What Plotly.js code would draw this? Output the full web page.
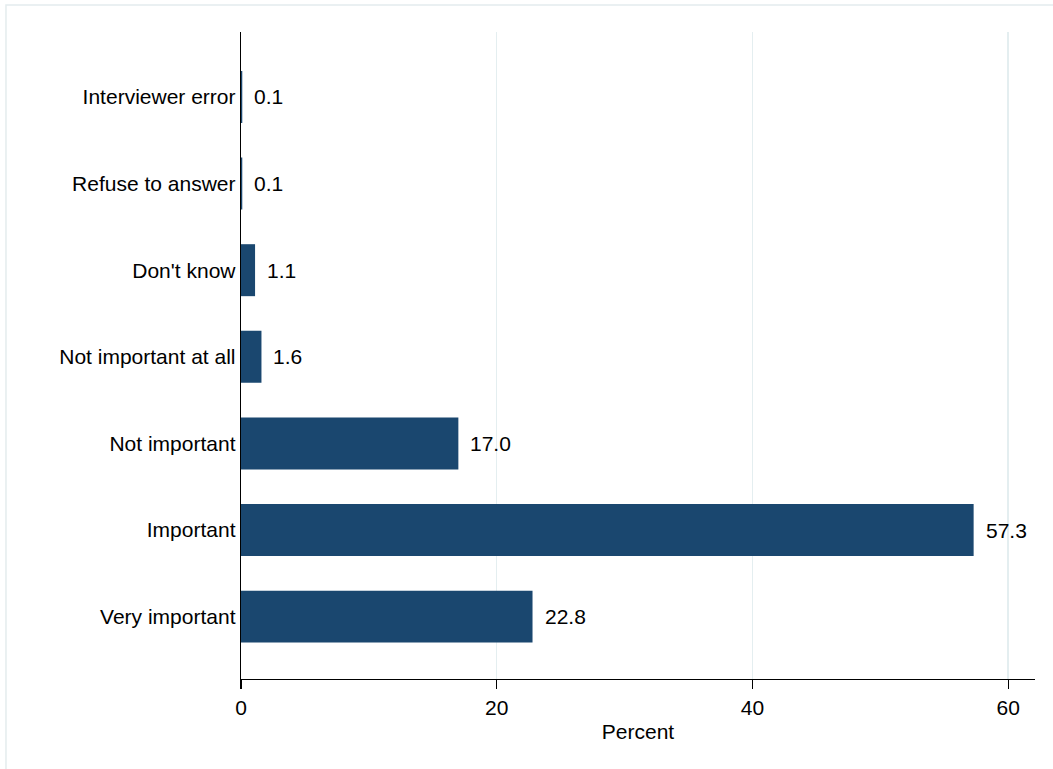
<!DOCTYPE html>
<html>
<head>
<meta charset="utf-8">
<script src="https://cdn.plot.ly/plotly-3.0.1.min.js"></script>
<style>html,body{margin:0;padding:0;background:#fff;}#chart{width:1053px;height:769px;}</style>
</head>
<body>
<div id="chart"></div>
<script>
// Categories listed bottom to top
const categories = ["Very important", "Important", "Not important", "Not important at all", "Don't know", "Refuse to answer", "Interviewer error"];
const percents = [22.8, 57.3, 17.0, 1.6, 1.1, 0.1, 0.1];
const xTicks = [0, 20, 40, 60];

const FONT = "Liberation Sans, Arial, sans-serif";
const FS = 21;
const barColor = "#1a476f";
const gridColor = "#e4eef0";

const trace = {
  type: "bar",
  orientation: "h",
  y: categories,
  x: percents,
  width: 0.6,
  marker: {color: barColor, line: {width: 0}},
  hoverinfo: "none"
};

const annotations = categories.map((c, i) => ({
  x: percents[i], y: c, xref: "x", yref: "y",
  text: percents[i].toFixed(1), showarrow: false,
  xanchor: "left", yanchor: "middle", xshift: 10,
  font: {family: FONT, size: FS, color: "#000"}
}));

const layout = {
  width: 1053, height: 769,
  margin: {l: 241, r: 18, t: 32, b: 90, pad: 0},
  paper_bgcolor: "#fff", plot_bgcolor: "#fff",
  showlegend: false,
  font: {family: FONT, size: FS, color: "#000"},
  xaxis: {
    range: [0, 62.1], tickvals: xTicks, ticktext: xTicks.map(String),
    ticks: "outside", ticklen: 9, tickwidth: 1.3, tickcolor: "#000",
    showline: true, linecolor: "#000", linewidth: 1.3,
    showgrid: true, gridcolor: gridColor, gridwidth: 1.5,
    zeroline: false,
    tickfont: {family: FONT, size: FS, color: "#000"},
    title: {text: "Percent", font: {family: FONT, size: FS, color: "#000"}, standoff: 6}
  },
  yaxis: {
    type: "category", categoryorder: "array", categoryarray: categories,
    range: [-0.72, 6.75],
    ticks: "", showline: true, linecolor: "#000", linewidth: 1.3,
    showgrid: false, zeroline: false, ticklabelstandoff: 0,
    tickfont: {family: FONT, size: FS, color: "#000"}
  },
  annotations: annotations,
  shapes: [{
    type: "rect", xref: "paper", yref: "paper",
    x0: -0.296, x1: 1.1, y0: -0.3, y1: 1.0417,
    line: {color: "#e4ecee", width: 1.5}, fillcolor: "rgba(0,0,0,0)", layer: "below"
  }]
};

Plotly.newPlot("chart", [trace], layout, {displayModeBar: false, staticPlot: true});
</script>
</body>
</html>
